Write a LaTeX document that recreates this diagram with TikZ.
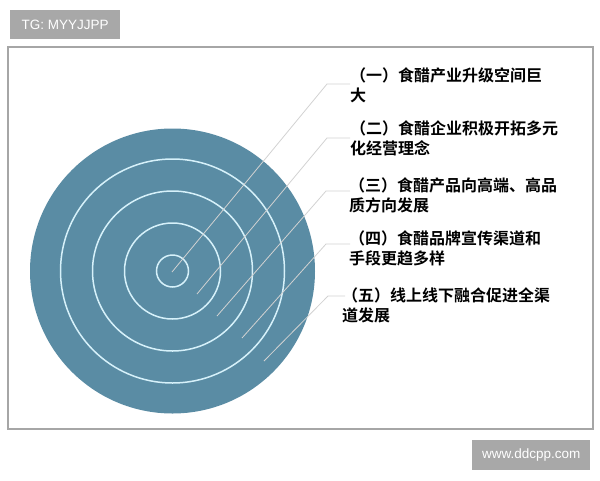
\documentclass[tikz,border=0pt]{standalone}
\usepackage{fontspec}
\setmainfont{Liberation Sans}
\newfontfamily\cjk{Noto Sans CJK SC Bold}
\definecolor{discblue}{HTML}{5A8CA4}
\definecolor{ringc}{HTML}{D6F1FA}
\definecolor{leadc}{HTML}{D2D2D2}
\definecolor{framec}{HTML}{A6A6A6}
\definecolor{tagc}{HTML}{A8A8A8}
\tikzset{
  ring/.style={circle, draw=ringc, line width=1.5pt, inner sep=0pt, minimum size=#1},
  leader/.style={draw=leadc, line width=0.8pt},
  item/.style={anchor=base west, inner sep=0pt, align=left, font=\cjk\fontsize{16}{20}\selectfont, text=black},
  tag/.style={fill=tagc, text=white, inner sep=0pt}
}
\begin{document}
\begin{tikzpicture}[x=1pt,y=-1pt]
\useasboundingbox (0,0) rectangle (600,480);
% tag boxes
\node[tag, font=\fontsize{13.5}{15}\selectfont, minimum width=110pt, minimum height=29pt, anchor=north west] (tg) at (10,10) {TG: MYYJJPP};
\node[tag, font=\fontsize{13.5}{15}\selectfont, minimum width=118pt, minimum height=30pt, anchor=north west] (www) at (472,440) {www.ddcpp.com};
% frame
\draw[framec, line width=1.5pt] (8,47) rectangle (593,429);
% disc and rings
\node[circle, fill=discblue, inner sep=0pt, minimum size=285pt] (disc) at (172.5,271) {};
\node[ring=32pt] (r1) at (disc.center) {};
\node[ring=96pt] (r2) at (disc.center) {};
\node[ring=160pt] (r3) at (disc.center) {};
\node[ring=224pt] (r4) at (disc.center) {};
% texts (base anchor = baseline of last line)
\node[item] (t1) at (350,101) {（一）食醋产业升级空间巨\\大};
\node[item] (t2) at (350,154) {（二）食醋企业积极开拓多元\\化经营理念};
\node[item] (t3) at (349,211) {（三）食醋产品向高端、高品\\质方向发展};
\node[item] (t4) at (349,264) {（四）食醋品牌宣传渠道和\\手段更趋多样};
\node[item] (t5) at (342,321) {（五）线上线下融合促进全渠\\道发展};
% leader coordinates
\coordinate (s1) at (172,272); \coordinate (k1) at (327,84); \coordinate (e1) at (350,84);
\coordinate (s2) at (197,294); \coordinate (k2) at (327,138); \coordinate (e2) at (350,138);
\coordinate (s3) at (217,316); \coordinate (k3) at (326,191); \coordinate (e3) at (350,191);
\coordinate (s4) at (242,338); \coordinate (k4) at (326,244); \coordinate (e4) at (350,244);
\coordinate (s5) at (264,361); \coordinate (k5) at (328,296); \coordinate (e5) at (345,296);
\foreach \i in {1,...,5}{
  \draw[leader] (s\i) -- (k\i) -- (e\i);
}
\end{tikzpicture}
\end{document}
